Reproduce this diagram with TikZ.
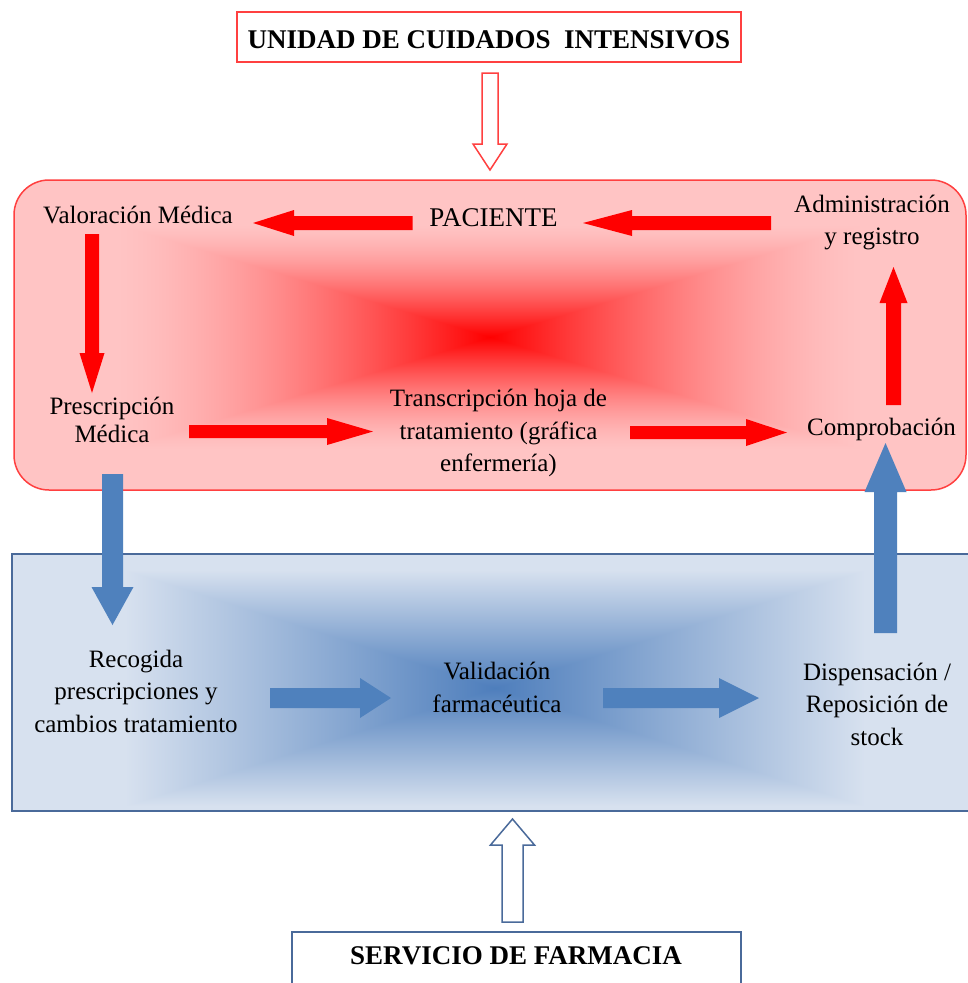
\documentclass[tikz,border=0pt]{standalone}
\usepackage{fontspec}
\setmainfont{Liberation Serif}
\usetikzlibrary{calc}
\definecolor{redA}{HTML}{FF0000}
\definecolor{redB}{HTML}{FF4040}
\definecolor{pinkL}{HTML}{FFC4C4}
\definecolor{blueA}{HTML}{4F81BD}
\definecolor{blueL}{HTML}{D7E1EF}
\definecolor{blueB}{HTML}{4A6A9A}
% rectangular "from centre" gradients (contours are similar rectangles)
\pgfdeclarefunctionalshading{redrect}{\pgfpoint{-50bp}{-50bp}}{\pgfpoint{50bp}{50bp}}{}{%
  abs 25 div exch abs 25 div 2 copy lt {exch} if pop
  dup 1 gt {pop 1} if 1 exch sub 1.5 exp 1 exch sub 0.77 mul 1 exch dup}
\pgfdeclarefunctionalshading{bluerect}{\pgfpoint{-50bp}{-50bp}}{\pgfpoint{50bp}{50bp}}{}{%
  abs 25 div exch abs 25 div 2 copy lt {exch} if pop
  dup 1 gt {pop 1} if
  dup dup 0.2 mul 0.737 add exch 0.388 mul 0.494 add exch
  3 -1 roll 0.537 mul 0.306 add 3 1 roll}
% block arrow: #1 style, #2 tail, #3 tip, #4 half shaft, #5 half head, #6 head length
\newcommand{\blkarr}[6]{%
  \coordinate (tmpH) at ($(#3)!#6!(#2)$);
  \path[#1] ($(#2)!#4!90:(#3)$) -- ($(tmpH)!#4!90:(#3)$) -- ($(tmpH)!#5!90:(#3)$)
    -- (#3) -- ($(tmpH)!#5!-90:(#3)$) -- ($(tmpH)!#4!-90:(#3)$) -- ($(#2)!#4!-90:(#3)$) -- cycle;}
\begin{document}
\begin{tikzpicture}[x=1pt,y=-1pt,
  lbl/.style={inner sep=0pt, align=center, text=black, font=\fontsize{25}{32.5}\selectfont},
  ttl/.style={inner sep=0pt, text=black, font=\fontsize{27}{32}\selectfont\bfseries},
  redfill/.style={fill=redA},
  bluefill/.style={fill=blueA},
  hollowred/.style={fill=white, draw=redB, line width=1.5pt, line join=miter},
  hollowblue/.style={fill=white, draw=blueB, line width=1.5pt, line join=miter}
]
\useasboundingbox (0,0) rectangle (967,983);
\fill[white] (0,0) rectangle (967,983);

% ---- red container (UCI) ----
\fill[pinkL, rounded corners=35pt] (14,180) rectangle (966,490);
\shade[shading=redrect] (110,222) rectangle (870,452);
\draw[draw=redB, line width=1.5pt, rounded corners=35pt] (14,180) rectangle (966,490);

% ---- blue container (Farmacia) ----
\fill[blueL] (12,554) rectangle (990,811);
\shade[shading=bluerect] (125,570) rectangle (865,806);
\draw[draw=blueB, line width=1.5pt] (990,554) -- (12,554) -- (12,811) -- (990,811);

% ---- title boxes ----
\node[ttl, draw=redB, line width=1.5pt, minimum width=504pt, minimum height=50pt,
      text height=22pt, text depth=0pt] (uci) at (489,37) {UNIDAD DE CUIDADOS\ \ INTENSIVOS};
\draw[draw=blueB, line width=1.5pt] (292,995) -- (292,932) -- (741,932) -- (741,995);
\node[ttl] (farm) at (516,956) {SERVICIO DE FARMACIA};

% ---- text nodes ----
\node[lbl] (val) at (138,215) {Valoración Médica};
\node[lbl, font=\fontsize{27}{32}\selectfont] (pac) at (493.5,218) {PACIENTE};
\node[lbl] (adm) at (872,222.5) {Administración\\y registro};
\node[lbl, font=\fontsize{25}{28}\selectfont] (pre) at (112,420) {Prescripción\\Médica};
\node[lbl] (tra) at (498.5,433) {Transcripción hoja de\\tratamiento (gráfica\\enfermería)};
\node[lbl] (com) at (881.5,429) {Comprobación};
\node[lbl] (rec) at (136,691) {Recogida\\prescripciones y\\cambios tratamiento};
\node[lbl] (vf) at (497,687.5) {Validación\\farmacéutica};
\node[lbl] (dis) at (877,704) {Dispensación /\\Reposición de\\stock};

% ---- connector end points ----
\coordinate (h1a) at (490,73);    \coordinate (h1b) at (490,170);
\coordinate (r1a) at (412.5,223); \coordinate (r1b) at (253,223);
\coordinate (r2a) at (771,223);   \coordinate (r2b) at (583,223);
\coordinate (r3a) at (92,234);    \coordinate (r3b) at (92,393);
\coordinate (r4a) at (189,431.5); \coordinate (r4b) at (373,431.5);
\coordinate (r5a) at (630,432.5); \coordinate (r5b) at (787,432.5);
\coordinate (r6a) at (893.5,405); \coordinate (r6b) at (893.5,267);
\coordinate (b1a) at (112.5,474); \coordinate (b1b) at (112.5,625);
\coordinate (b2a) at (270,698);   \coordinate (b2b) at (391,698);
\coordinate (b3a) at (603,698);   \coordinate (b3b) at (759,698);
\coordinate (b4a) at (885.5,633); \coordinate (b4b) at (885.5,443);
\coordinate (h2a) at (512.5,922); \coordinate (h2b) at (512.5,819);

% ---- arrows ----
\blkarr{hollowred}{h1a}{h1b}{8pt}{17pt}{26pt}
\blkarr{redfill}{r1a}{r1b}{7pt}{13pt}{41pt}
\blkarr{redfill}{r2a}{r2b}{7pt}{13pt}{49pt}
\blkarr{redfill}{r3a}{r3b}{7pt}{12.5pt}{40pt}
\blkarr{redfill}{r4a}{r4b}{6.5pt}{13.5pt}{46pt}
\blkarr{redfill}{r5a}{r5b}{6.5pt}{13.5pt}{41pt}
\blkarr{redfill}{r6a}{r6b}{7.5pt}{14pt}{36pt}
\blkarr{bluefill}{b1a}{b1b}{10.5pt}{21pt}{38pt}
\blkarr{bluefill}{b2a}{b2b}{10pt}{20pt}{31pt}
\blkarr{bluefill}{b3a}{b3b}{10pt}{20pt}{40pt}
\blkarr{bluefill}{b4a}{b4b}{11.5pt}{21pt}{49pt}
\blkarr{hollowblue}{h2a}{h2b}{10.5pt}{22pt}{26pt}
\end{tikzpicture}
\end{document}
